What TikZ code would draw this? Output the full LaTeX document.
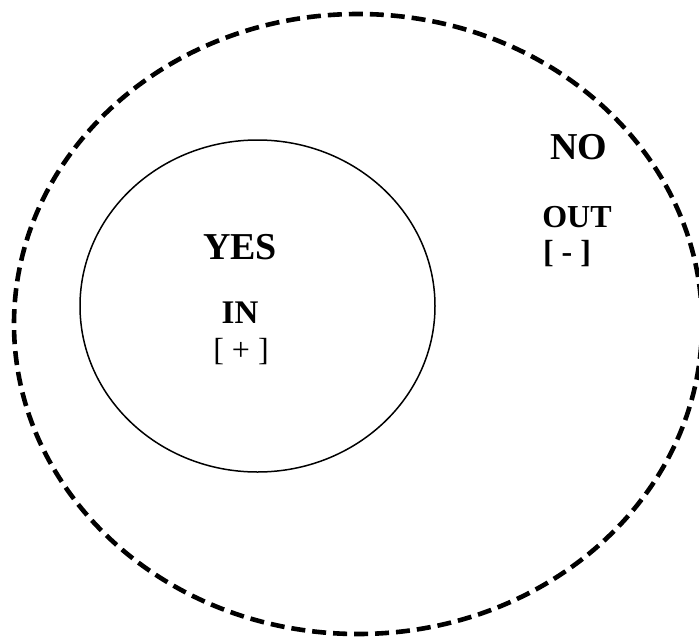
\documentclass[tikz,border=0pt]{standalone}
\usepackage{fontspec}
\setmainfont{Liberation Serif}
\begin{document}
\begin{tikzpicture}[x=1pt,y=-1pt,
  lbl/.style={inner sep=0pt,anchor=base,font=\fontsize{#1}{#1}\selectfont\bfseries},
  lblr/.style={inner sep=0pt,anchor=base,font=\fontsize{#1}{#1}\selectfont},
  outerset/.style={line width=4.6pt,dash pattern=on 14pt off 7pt},
  innerset/.style={line width=1.5pt}]
\useasboundingbox (0,0) rectangle (699,640);
\clip (0,0) rectangle (699,640);
\fill[white] (0,0) rectangle (699,640);
\draw[outerset] (358,324) ellipse [x radius=344, y radius=310];
\draw[innerset] (257.5,306) ellipse [x radius=177.5, y radius=166];
\node[lbl=38] (yes) at (240,259) {YES};
\node[lbl=33] (in) at (240,323) {IN};
\node[lblr=32] (plus) at (241,360) {[ + ]};
\node[lbl=38] (no) at (579,159) {NO};
\node[lbl=32] (out) at (577,227) {OUT};
\node[lbl=32] (minus) at (567,262) {[ - ]};
\end{tikzpicture}
\end{document}
